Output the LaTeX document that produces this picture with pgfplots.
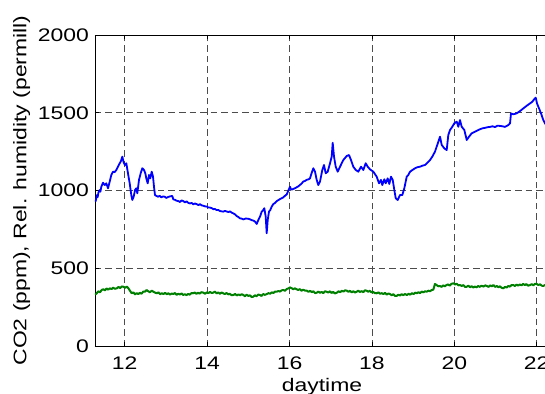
\documentclass[border=0pt]{standalone}
\usepackage{fontspec}
\setmainfont[FakeStretch=1.26]{Liberation Sans}
\usepackage{pgfplots}
\pgfplotsset{compat=1.18}
\usepackage{pgfplotstable}

% CO2 concentration (ppm) over the day
\pgfplotstableread{
t v
11.280 940
11.296 932
11.328 971
11.345 958
11.360 985
11.393 1003
11.410 992
11.432 1024
11.473 1050
11.514 1035
11.553 1046
11.595 1014
11.636 1057
11.675 1100
11.716 1121
11.756 1118
11.796 1132
11.837 1153
11.879 1175
11.910 1190
11.942 1218
11.976 1179
12.007 1164
12.039 1175
12.073 1121
12.121 1046
12.160 971
12.184 939
12.218 960
12.250 1003
12.281 1014
12.306 982
12.347 1068
12.388 1111
12.427 1143
12.468 1132
12.500 1111
12.524 1078
12.558 1046
12.590 1100
12.621 1078
12.655 1121
12.687 1089
12.711 1024
12.735 971
12.770 965
12.808 960
12.850 966
12.888 956
12.930 962
12.971 960
13.010 952
13.051 958
13.100 962
13.155 965
13.179 943
13.220 940
13.262 934
13.300 932
13.342 926
13.380 936
13.422 932
13.460 924
13.505 930
13.545 920
13.585 917
13.625 920
13.665 911
13.705 917
13.747 912
13.790 906
13.828 912
13.870 904
13.908 902
13.950 898
13.990 897
14.030 891
14.070 890
14.110 887
14.150 880
14.190 881
14.233 874
14.270 875
14.313 868
14.350 866
14.393 864
14.430 869
14.476 865
14.520 861
14.556 866
14.600 857
14.636 853
14.680 846
14.718 836
14.760 829
14.798 821
14.840 819
14.879 814
14.940 820
15.000 818
15.040 815
15.082 809
15.120 807
15.162 800
15.204 785
15.243 810
15.284 832
15.325 864
15.364 875
15.388 886
15.422 832
15.446 725
15.471 810
15.502 864
15.534 875
15.568 896
15.607 913
15.650 920
15.689 932
15.730 938
15.769 945
15.810 950
15.849 956
15.890 966
15.932 975
15.971 999
16.012 1024
16.036 1008
16.060 1006
16.092 1010
16.130 1014
16.175 1021
16.215 1027
16.255 1036
16.295 1045
16.335 1058
16.375 1061
16.417 1069
16.457 1071
16.497 1078
16.539 1114
16.578 1143
16.619 1121
16.660 1068
16.699 1035
16.740 1057
16.764 1089
16.796 1132
16.837 1164
16.879 1111
16.927 1121
16.983 1175
17.024 1218
17.048 1307
17.080 1218
17.121 1153
17.170 1121
17.226 1153
17.306 1196
17.388 1222
17.444 1228
17.493 1196
17.548 1153
17.607 1132
17.670 1121
17.735 1153
17.791 1132
17.849 1175
17.898 1153
17.954 1136
18.034 1121
18.116 1089
18.172 1046
18.221 1068
18.252 1035
18.301 1072
18.335 1046
18.383 1078
18.422 1042
18.463 1089
18.505 1068
18.544 1003
18.578 950
18.626 939
18.682 971
18.738 971
18.786 1014
18.845 1089
18.885 1100
18.925 1121
18.985 1132
19.046 1143
19.105 1150
19.167 1153
19.230 1160
19.289 1164
19.350 1180
19.410 1196
19.470 1220
19.531 1250
19.612 1314
19.653 1346
19.694 1293
19.757 1271
19.815 1260
19.854 1357
19.896 1389
19.951 1410
20.000 1432
20.058 1443
20.097 1410
20.138 1453
20.179 1410
20.243 1389
20.301 1325
20.357 1346
20.422 1368
20.502 1378
20.560 1386
20.624 1394
20.685 1400
20.745 1403
20.805 1407
20.866 1409
20.925 1413
20.988 1408
21.050 1417
21.109 1415
21.170 1413
21.230 1409
21.311 1421
21.352 1432
21.376 1496
21.432 1490
21.514 1496
21.595 1511
21.675 1528
21.757 1545
21.837 1560
21.893 1571
21.942 1588
21.976 1597
22.007 1560
22.056 1528
22.104 1496
22.160 1453
22.201 1432
22.280 1400
}\coco

% relative humidity (permill) over the day
\pgfplotstableread{
t v
11.28 330
11.32 339
11.36 352
11.40 345
11.44 360
11.48 365
11.52 358
11.56 370
11.60 362
11.64 371
11.68 366
11.72 375
11.76 368
11.81 371
11.85 380
11.89 372
11.93 383
11.97 381
12.01 374
12.05 382
12.09 371
12.13 355
12.17 339
12.21 345
12.25 332
12.29 340
12.33 334
12.37 342
12.41 336
12.45 350
12.49 349
12.53 360
12.57 352
12.61 346
12.66 356
12.70 348
12.74 343
12.78 339
12.82 345
12.86 333
12.90 340
12.94 334
12.98 342
13.02 333
13.06 339
13.10 330
13.14 338
13.18 334
13.22 341
13.26 329
13.30 336
13.34 331
13.38 338
13.42 328
13.46 333
13.50 327
13.54 335
13.58 330
13.62 340
13.66 339
13.70 344
13.74 336
13.78 342
13.82 337
13.86 346
13.91 343
13.95 336
13.99 345
14.03 340
14.07 348
14.11 341
14.15 343
14.19 350
14.23 338
14.27 345
14.31 336
14.35 344
14.39 339
14.43 334
14.47 341
14.51 332
14.55 336
14.59 327
14.64 328
14.68 335
14.72 325
14.76 332
14.80 326
14.84 333
14.88 328
14.92 320
14.96 330
15.00 322
15.04 326
15.08 315
15.12 317
15.16 326
15.20 320
15.24 331
15.28 328
15.32 322
15.36 334
15.40 329
15.45 334
15.49 340
15.53 336
15.57 345
15.61 341
15.65 350
15.69 349
15.73 354
15.77 350
15.81 358
15.85 360
15.89 355
15.93 366
15.97 370
16.01 377
16.05 372
16.09 365
16.13 371
16.17 365
16.21 360
16.25 366
16.29 355
16.33 362
16.38 356
16.42 356
16.46 348
16.50 355
16.54 346
16.58 352
16.62 340
16.66 343
16.70 350
16.74 342
16.78 348
16.82 340
16.86 352
16.90 349
16.94 344
16.98 352
17.02 341
17.06 348
17.10 338
17.15 343
17.19 352
17.23 346
17.27 355
17.31 350
17.35 358
17.39 356
17.43 348
17.47 355
17.51 345
17.55 352
17.59 344
17.63 349
17.67 356
17.71 347
17.75 353
17.79 346
17.83 358
17.87 356
17.91 349
17.95 355
17.99 345
18.03 348
18.07 340
18.12 339
18.16 345
18.20 336
18.24 340
18.28 334
18.32 342
18.36 330
18.40 338
18.44 334
18.48 326
18.52 333
18.56 322
18.60 322
18.64 330
18.68 325
18.72 333
18.76 327
18.80 334
18.85 328
18.89 336
18.93 330
18.97 340
19.01 334
19.05 343
19.09 339
19.13 346
19.17 340
19.21 350
19.25 345
19.29 352
19.33 349
19.37 356
19.41 352
19.45 360
19.49 362
19.53 399
19.57 392
19.61 384
19.65 386
19.69 380
19.73 390
19.77 384
19.81 392
19.85 396
19.89 388
19.93 400
19.98 403
20.02 396
20.06 400
20.10 390
20.14 392
20.18 386
20.22 392
20.26 380
20.30 381
20.34 388
20.38 378
20.42 385
20.46 376
20.50 382
20.54 377
20.58 386
20.62 380
20.66 388
20.71 382
20.75 390
20.79 386
20.83 380
20.87 390
20.91 384
20.95 392
20.99 380
21.03 386
21.07 378
21.11 384
21.15 374
21.19 371
21.23 380
21.27 376
21.31 386
21.35 382
21.39 392
21.43 392
21.47 386
21.51 395
21.55 388
21.59 396
21.63 390
21.67 399
21.71 392
21.75 398
21.79 388
21.84 392
21.88 398
21.92 390
21.96 400
22.00 399
22.04 392
22.08 397
22.12 388
22.16 386
22.20 392
22.24 384
22.28 380
}\humid

\definecolor{mlblue}{rgb}{0,0,1}
\definecolor{mlgreen}{rgb}{0,0.5,0}

\begin{document}
\begin{tikzpicture}
\begin{axis}[
  name=ax,
  scale only axis,
  width=454bp, height=311bp,
  xmin=11.279, xmax=22.298,
  ymin=0, ymax=2000,
  xtick={12,14,16,18,20,22},
  ytick={0,500,1000,1500,2000},
  /pgf/number format/assume math mode=true,
  /pgf/number format/1000 sep={},
  tick label style={font=\fontsize{18.2bp}{21bp}\selectfont},
  label style={font=\fontsize{18.2bp}{21bp}\selectfont},
  xticklabel style={anchor=base, yshift=-23.3bp, inner sep=0pt},
  yticklabel style={anchor=east, xshift=-6bp, inner sep=0pt},
  xlabel={daytime},
  ylabel={CO2 (ppm), Rel. humidity (permill)},
  xlabel style={at={(axis description cs:0.5,-0.1479)}, anchor=base},
  ylabel style={at={(axis description cs:-0.1509,0.5)}, anchor=base},
  grid=major,
  major grid style={black!70, line width=0.8bp, dash pattern=on 6.5bp off 4bp},
  axis line style={black, line width=0.9bp},
  tick align=inside,
  major tick length=4.5bp,
  tick style={black, line width=0.8bp},
]
\addplot[mlblue, line width=1.8bp, line join=round] table[x=t, y=v] {\coco};
\addplot[mlgreen, line width=2.0bp, line join=round] table[x=t, y=v] {\humid};
\end{axis}
\pgfresetboundingbox
\path[use as bounding box] ([xshift=-95bp, yshift=-48bp]ax.south west)
  rectangle ([xshift=-4bp, yshift=35bp]ax.north east);
\end{tikzpicture}
\end{document}
